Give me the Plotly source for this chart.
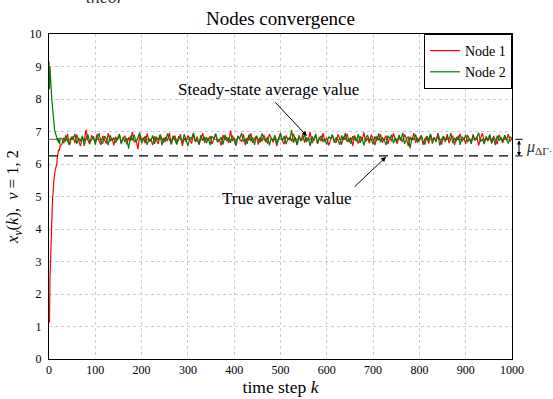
import plotly.graph_objects as go

# ---- data ----
k_transient = list(range(0, 25))
red_transient = [1.12, 1.14, 2.40, 3.00, 3.40, 3.80, 4.30, 4.70, 5.00, 5.10, 5.40, 5.60, 5.65,
                 5.80, 5.85, 5.90, 5.90, 6.00, 6.20, 6.30, 6.35, 6.45, 6.40, 6.50, 6.55]
green_transient = [9.15, 8.30, 9.00, 8.50, 8.70, 8.25, 8.00, 7.80, 7.60, 7.40, 7.25, 7.15, 7.05,
                   7.00, 6.95, 6.90, 6.85, 6.80, 6.75, 6.70, 6.80, 6.65, 6.75, 6.60, 6.80]

k_steady = list(range(28, 1001, 4))
red_steady = [
    6.62, 6.81, 6.70, 6.93, 6.58, 6.77, 6.85, 6.64, 6.90, 6.72,
    6.55, 6.83, 6.68, 7.06, 6.74, 6.61, 6.88, 6.79, 6.66, 6.92,
    6.71, 6.59, 6.86, 6.75, 6.63, 6.95, 6.69, 6.80, 6.57, 6.84,
    6.73, 6.91, 6.65, 6.78, 6.87, 6.60, 6.82, 6.70, 6.99, 6.67,
    6.76, 6.46, 6.89, 6.72, 6.81, 6.64, 6.94, 6.69, 6.77, 6.58,
    6.85, 6.73, 6.62, 6.90, 6.79, 6.66, 6.83, 6.71, 6.96, 6.60,
    6.78, 6.87, 6.65, 6.74, 6.92, 6.56, 6.80, 6.68, 6.88, 6.75,
    6.63, 6.91, 6.70, 6.84, 6.59, 6.77, 6.95, 6.66, 6.82, 6.72,
    6.86, 6.61, 6.79, 6.93, 6.68, 6.75, 6.57, 6.89, 6.74, 6.83,
    6.64, 7.03, 6.71, 6.80, 6.62, 6.87, 6.76, 6.69, 6.91, 6.58,
    6.81, 6.73, 6.94, 6.65, 6.78, 6.86, 6.60, 6.83, 6.70, 6.89,
    6.75, 6.63, 6.92, 6.77, 6.67, 6.84, 6.55, 6.79, 6.96, 6.72,
    6.61, 6.88, 6.74, 6.82, 6.69, 6.93, 6.76, 6.59, 6.85, 6.71,
    6.90, 6.66, 6.80, 6.73, 6.98, 6.64, 6.78, 6.87, 6.62, 6.83,
    6.70, 6.95, 6.68, 6.81, 6.57, 6.76, 6.89, 6.72, 6.65, 6.91,
    6.79, 6.60, 6.84, 6.74, 6.93, 6.67, 6.82, 6.56, 6.88, 6.75,
    6.63, 6.86, 6.71, 6.97, 6.69, 6.80, 6.64, 6.90, 6.77, 6.58,
    6.85, 6.73, 6.92, 6.66, 6.79, 6.87, 6.61, 6.83, 6.70, 6.94,
    6.76, 6.62, 6.89, 6.74, 6.68, 6.91, 6.78, 6.55, 6.84, 6.72,
    6.95, 6.65, 6.81, 6.70, 6.88, 6.59, 6.77, 6.86, 6.63, 6.90,
    6.73, 6.82, 6.67, 6.96, 6.75, 6.60, 6.85, 6.71, 6.92, 6.64,
    6.79, 6.87, 6.58, 6.83, 6.74, 6.93, 6.69, 6.80, 6.62, 6.89,
    6.76, 6.66, 6.91, 6.72, 6.84, 6.57, 6.78, 6.95, 6.68, 6.81,
    6.70, 6.88, 6.63, 6.86, 6.75, 6.61, 6.90, 6.77, 6.65, 6.83,
    6.74, 6.92, 6.69, 6.80,
]
green_steady = [
    6.78, 6.64, 6.88, 6.71, 6.59, 6.84, 6.75, 6.93, 6.62, 6.80,
    6.69, 6.87, 6.56, 6.79, 6.91, 6.67, 6.74, 6.85, 6.60, 6.82,
    6.95, 6.70, 6.63, 6.86, 6.77, 6.58, 6.89, 6.72, 6.81, 6.65,
    6.76, 6.92, 6.61, 6.83, 6.68, 6.79, 6.47, 6.87, 6.73, 6.90,
    6.66, 6.80, 6.97, 6.64, 6.75, 6.86, 6.59, 6.78, 6.70, 6.88,
    6.62, 6.84, 6.73, 6.91, 6.57, 6.81, 6.69, 6.94, 6.76, 6.63,
    6.87, 6.71, 6.60, 6.85, 6.78, 6.66, 6.92, 6.74, 6.55, 6.82,
    6.79, 6.96, 6.68, 6.75, 6.61, 6.89, 6.72, 6.84, 6.64, 6.80,
    6.58, 6.86, 6.77, 6.93, 6.67, 6.74, 6.83, 6.60, 6.90, 6.71,
    6.81, 6.65, 6.88, 6.73, 6.56, 6.85, 6.79, 6.95, 6.69, 6.76,
    6.62, 6.91, 6.70, 6.82, 6.59, 6.87, 6.75, 6.66, 6.94, 6.78,
    6.68, 6.84, 6.57, 6.80, 6.73, 6.89, 6.63, 6.77, 6.92, 6.70,
    6.86, 6.61, 6.79, 6.74, 7.04, 6.65, 6.83, 6.58, 6.88, 6.72,
    6.76, 6.90, 6.67, 6.81, 6.55, 6.85, 6.71, 6.93, 6.64, 6.79,
    6.87, 6.69, 6.75, 6.60, 6.84, 6.78, 6.91, 6.66, 6.82, 6.73,
    6.59, 6.88, 6.74, 6.95, 6.68, 6.80, 6.62, 6.86, 6.77, 6.70,
    6.92, 6.65, 6.83, 6.57, 6.79, 6.89, 6.72, 6.76, 6.61, 6.85,
    6.71, 6.94, 6.67, 6.81, 6.74, 6.58, 6.87, 6.78, 6.90, 6.64,
    6.80, 6.69, 6.86, 6.73, 6.96, 6.62, 6.77, 6.84, 6.48, 6.82,
    6.75, 6.91, 6.66, 6.79, 6.88, 6.70, 6.60, 6.85, 6.74, 6.93,
    6.63, 6.81, 6.72, 6.89, 6.57, 6.78, 6.86, 6.68, 6.83, 6.76,
    6.95, 6.64, 6.80, 6.71, 6.87, 6.59, 6.84, 6.75, 6.90, 6.67,
    6.79, 6.62, 6.88, 6.73, 6.82, 6.96, 6.69, 6.77, 6.61, 6.85,
    6.74, 6.91, 6.66, 6.80, 6.58, 6.87, 6.72, 6.83, 6.70, 6.89,
    6.76, 6.63, 6.84, 6.78,
]

true_avg = 6.25
steady_avg = 6.76
x_range = [0, 1000]
x_ticks = list(range(0, 1001, 100))
y_ticks = list(range(0, 11))

k_all = k_transient + k_steady
red_all = red_transient + red_steady
green_all = green_transient + green_steady

FONT = "Liberation Serif"

def f(size, color="black"):
    return dict(family=FONT, size=size, color=color)

fig = go.Figure()
fig.add_trace(go.Scatter(x=x_range, y=[steady_avg, steady_avg], mode="lines",
                         line=dict(color="#808080", width=1.2, dash="9px,6px"),
                         showlegend=False, hoverinfo="skip"))
fig.add_trace(go.Scatter(x=k_all, y=red_all, mode="lines", name="Node 1",
                         line=dict(color="#ff0000", width=1.2)))
fig.add_trace(go.Scatter(x=k_all, y=green_all, mode="lines", name="Node 2",
                         line=dict(color="#008000", width=1.2)))
fig.add_trace(go.Scatter(x=x_range, y=[true_avg, true_avg], mode="lines",
                         line=dict(color="#000000", width=1.2, dash="9px,6px"),
                         showlegend=False, hoverinfo="skip"))

fig.update_layout(
    width=553, height=399,
    margin=dict(l=49, r=41, t=34, b=40, autoexpand=False),
    paper_bgcolor="white", plot_bgcolor="white",
    font=f(12),
    title=dict(text="Nodes convergence", x=0.5, xref="paper", xanchor="center",
               y=1 - 18 / 399, yref="container", yanchor="middle", font=f(19)),
    legend=dict(x=1, y=1, xanchor="right", yanchor="top", bgcolor="white",
                bordercolor="black", borderwidth=1, itemwidth=30,
                tracegroupgap=0, font=f(14)),
    showlegend=True,
)
fig.update_xaxes(range=x_range, tickvals=x_ticks, showgrid=True, gridcolor="#cccccc",
                 griddash="dot", gridwidth=1, zeroline=False, showline=True,
                 linecolor="black", linewidth=1, mirror=True, ticks="", automargin=False,
                 tickfont=f(12),
                 title=dict(text="time step <i>k</i>", font=f(17.5), standoff=2))
fig.update_yaxes(range=[0, 10], tickvals=y_ticks, showgrid=True, gridcolor="#cccccc",
                 griddash="dot", gridwidth=1, zeroline=False, showline=True,
                 linecolor="black", linewidth=1, mirror=True, ticks="", automargin=False,
                 tickfont=f(12), ticklabelstandoff=4,
                 title=dict(text="<i>x<sub>v</sub></i>(<i>k</i>),  <i>v</i> = 1, 2",
                            font=f(16.5), standoff=6))

# text annotations
fig.add_annotation(x=473, y=8.28, xref="x", yref="y", text="Steady-state average value",
                   showarrow=False, font=f(17))
fig.add_annotation(x=557, y=6.86, xref="x", yref="y", ax=486, ay=7.94, axref="x", ayref="y",
                   text="", showarrow=True, arrowhead=2, arrowsize=1, arrowwidth=1,
                   arrowcolor="black")
fig.add_annotation(x=514, y=4.95, xref="x", yref="y", text="True average value",
                   showarrow=False, font=f(17))
fig.add_annotation(x=728, y=6.22, xref="x", yref="y", ax=657, ay=5.26, axref="x", ayref="y",
                   text="", showarrow=True, arrowhead=2, arrowsize=1, arrowwidth=1,
                   arrowcolor="black")

# mu bracket on the right
bx = (519 - 49) / 463
fig.add_annotation(x=bx, y=true_avg, xref="paper", yref="y", ax=0, ay=-17,
                   axref="pixel", ayref="pixel", text="", showarrow=True,
                   arrowhead=2, arrowside="end+start", arrowsize=0.8, arrowwidth=1,
                   arrowcolor="black")
for yy in (true_avg, steady_avg):
    fig.add_shape(type="line", xref="paper", yref="y", x0=bx - 0.008, x1=bx + 0.008,
                  y0=yy, y1=yy, line=dict(color="black", width=1))
fig.add_annotation(x=(524 - 49) / 463, y=(true_avg + steady_avg) / 2, xref="paper", yref="y",
                   xanchor="left", yanchor="middle", showarrow=False,
                   text="<i>μ</i><sub>ΔΓ·</sub>", font=f(16, "#333333"))

# cut-off text at top
fig.add_annotation(x=(105 - 49) / 463, y=(359 - 8.5) / 325,
                   xref="paper", yref="paper", xanchor="center", yanchor="bottom",
                   showarrow=False, text="<i>theor</i>", font=f(18, "#333333"))

fig.write_html("out.html", config={"displayModeBar": False},
               post_script="document.body.style.margin='0';")
